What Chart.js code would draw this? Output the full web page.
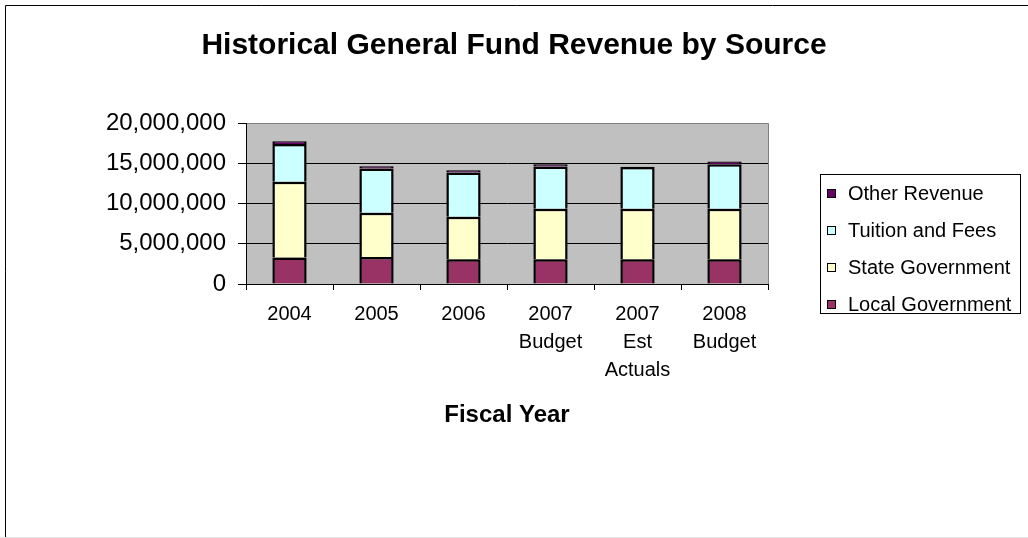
<!DOCTYPE html>
<html>
<head>
<meta charset="utf-8">
<script src="https://cdn.jsdelivr.net/npm/chart.js@4/dist/chart.umd.min.js"></script>
<style>
  html, body { margin: 0; padding: 0; background: #ffffff; }
  canvas { display: block; }
</style>
</head>
<body>
<canvas id="revenueChart" width="1028" height="538"></canvas>
<script>
// Fiscal years shown along the category axis (multi-line where needed)
const fiscalYears = ['2004', '2005', '2006', ['2007', 'Budget'], ['2007', 'Est', 'Actuals'], ['2008', 'Budget']];

// Revenue by source, in dollars
const localGovernment = [3300000, 3340000, 3090000, 3090000, 3090000, 3090000];
const stateGovernment = [9400000, 5500000, 5250000, 6250000, 6250000, 6250000];
const tuitionAndFees  = [4700000, 5500000, 5500000, 5250000, 5200000, 5550000];
const otherRevenue    = [330000, 290000, 290000, 290000, 20000, 330000];

// Value axis ticks
const valueTicks = [0, 5000000, 10000000, 15000000, 20000000];

const chartTitle = 'Historical General Fund Revenue by Source';
const axisTitle = 'Fiscal Year';
const FONT = '"Liberation Sans", Arial, Helvetica, sans-serif';

function series(label, data, color) {
  return {
    label: label,
    data: data,
    backgroundColor: color,
    borderColor: '#000000',
    borderWidth: 2.5,
    borderSkipped: 'bottom'
  };
}

// Grey plot background with a grey frame
const plotBackground = {
  id: 'plotBackground',
  beforeDraw(chart) {
    const { ctx, chartArea: a } = chart;
    ctx.save();
    ctx.fillStyle = '#c0c0c0';
    ctx.fillRect(a.left, a.top, a.right - a.left, a.bottom - a.top);
    ctx.strokeStyle = '#808080';
    ctx.lineWidth = 1;
    ctx.beginPath();
    ctx.moveTo(a.left, Math.round(a.top) + 0.5);
    ctx.lineTo(Math.round(a.right) + 0.5, Math.round(a.top) + 0.5);
    ctx.lineTo(Math.round(a.right) + 0.5, a.bottom);
    ctx.stroke();
    ctx.restore();
  }
};

// Outer frame, title and the boxed legend on the right
const decorations = {
  id: 'decorations',
  afterDraw(chart) {
    const ctx = chart.ctx;
    ctx.save();

    // outer frame
    ctx.strokeStyle = '#000000';
    ctx.lineWidth = 1;
    ctx.beginPath();
    ctx.moveTo(5.5, 538);
    ctx.lineTo(5.5, 5.5);
    ctx.lineTo(1028, 5.5);
    ctx.stroke();
    ctx.strokeStyle = '#e6e6e6';
    ctx.beginPath();
    ctx.moveTo(0, 537.5);
    ctx.lineTo(1028, 537.5);
    ctx.stroke();

    // title
    ctx.fillStyle = '#000000';
    ctx.font = 'bold 30px ' + FONT;
    ctx.textAlign = 'center';
    ctx.textBaseline = 'alphabetic';
    ctx.fillText(chartTitle, 514, 53.5);

    // legend
    const box = { x: 820.5, y: 174.5, w: 200, h: 139 };
    ctx.strokeStyle = '#000000';
    ctx.lineWidth = 1;
    ctx.strokeRect(box.x, box.y, box.w, box.h);
    const sets = chart.data.datasets.slice().reverse();
    ctx.font = '20px ' + FONT;
    ctx.textAlign = 'left';
    ctx.textBaseline = 'middle';
    sets.forEach((ds, i) => {
      const cy = 193 + i * 37.2;
      ctx.fillStyle = ds.backgroundColor;
      ctx.fillRect(827, Math.round(cy - 4.5), 9, 9);
      ctx.strokeStyle = '#000000';
      ctx.strokeRect(827.5, Math.round(cy - 4.5) + 0.5, 8, 8);
      ctx.fillStyle = '#000000';
      ctx.fillText(ds.label, 848, cy + 1);
    });

    ctx.restore();
  }
};

new Chart(document.getElementById('revenueChart'), {
  type: 'bar',
  data: {
    labels: fiscalYears,
    datasets: [
      series('Local Government', localGovernment, '#993366'),
      series('State Government', stateGovernment, '#ffffcc'),
      series('Tuition and Fees', tuitionAndFees, '#ccffff'),
      series('Other Revenue', otherRevenue, '#660066')
    ]
  },
  options: {
    responsive: false,
    animation: false,
    devicePixelRatio: 1,
    events: [],
    barPercentage: 0.394,
    categoryPercentage: 1,
    layout: { padding: { left: 0, right: 260, top: 123, bottom: 108 } },
    plugins: {
      legend: { display: false },
      title: { display: false },
      tooltip: { enabled: false }
    },
    scales: {
      x: {
        stacked: true,
        offset: true,
        grid: {
          offset: true,
          drawOnChartArea: false,
          drawTicks: true,
          tickLength: 6,
          color: '#000000',
          lineWidth: 1
        },
        border: { display: true, color: '#000000', width: 1 },
        ticks: {
          color: '#000000',
          font: { family: FONT, size: 20, lineHeight: 1.4 },
          padding: 10,
          maxRotation: 0,
          autoSkip: false
        },
        title: {
          display: true,
          text: axisTitle,
          color: '#000000',
          font: { family: FONT, size: 24, weight: 'bold' },
          padding: 0
        },
        afterFit(scale) { scale.height = 146; }
      },
      y: {
        stacked: true,
        min: valueTicks[0],
        max: valueTicks[valueTicks.length - 1],
        afterBuildTicks(scale) {
          scale.ticks = valueTicks.map(v => ({ value: v }));
        },
        ticks: {
          color: '#000000',
          font: { family: FONT, size: 24 },
          padding: 12,
          callback: v => Number(v).toLocaleString('en-US')
        },
        grid: {
          color: ctx => (ctx.tick && ctx.tick.value === valueTicks[valueTicks.length - 1]) ? '#808080' : '#000000',
          tickColor: '#000000',
          tickLength: 8,
          lineWidth: 1
        },
        border: { display: true, color: '#000000', width: 1 },
        afterFit(scale) { scale.width = 246; }
      }
    }
  },
  plugins: [plotBackground, decorations]
});
</script>
</body>
</html>
